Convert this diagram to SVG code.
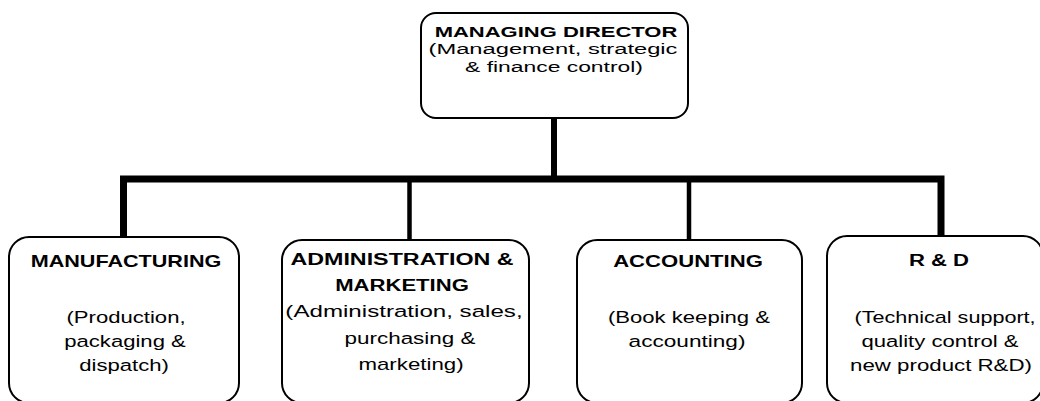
<svg xmlns="http://www.w3.org/2000/svg" width="1040" height="401" viewBox="0 0 1040 401">
  <style>
    .box { fill: #ffffff; stroke: #000000; stroke-width: 2; }
    .link { fill: none; stroke: #000000; stroke-linecap: butt; stroke-linejoin: miter; }
    text { font-family: "Liberation Sans", Arial, Helvetica, sans-serif; font-size: 17px; fill: #000000; text-anchor: middle; }
    .head { font-weight: bold; }
    .top { font-size: 15.5px; }
  </style>
  <rect x="0" y="0" width="1040" height="401" fill="#ffffff"/>

  <!-- connectors: trunk, main bar with outer drops, inner drops -->
  <g id="connectors">
    <path class="link" d="M554 118 V180" stroke-width="6"/>
    <path class="link" d="M123.5 237 V179 H941 V236" stroke-width="7"/>
    <path class="link" d="M409.5 180 V240" stroke-width="4.5"/>
    <path class="link" d="M689 180 V240" stroke-width="4.5"/>
  </g>

  <!-- top node -->
  <g id="managing-director">
    <rect class="box" x="421" y="13" width="267" height="105" rx="15" ry="15"/>
    <text class="head top" transform="translate(556 36.5) scale(1.42 1)">MANAGING DIRECTOR</text>
    <text class="top" transform="translate(553 54) scale(1.53 1)">(Management, strategic</text>
    <text class="top" transform="translate(554 71.5) scale(1.475 1)">&amp; finance control)</text>
  </g>

  <g id="manufacturing">
    <rect class="box" x="9" y="237" width="230" height="166" rx="20" ry="20"/>
    <text class="head" transform="translate(126 267) scale(1.27 1)">MANUFACTURING</text>
    <text transform="translate(126 323) scale(1.3 1)">(Production,</text>
    <text transform="translate(125 347) scale(1.3 1)">packaging &amp;</text>
    <text transform="translate(124 371) scale(1.3 1)">dispatch)</text>
  </g>

  <g id="administration-marketing">
    <rect class="box" x="282" y="240" width="247" height="163" rx="20" ry="20"/>
    <text class="head" transform="translate(402 265) scale(1.37 1)">ADMINISTRATION &amp;</text>
    <text class="head" transform="translate(402 291) scale(1.3 1)">MARKETING</text>
    <text transform="translate(404 317) scale(1.42 1)">(Administration, sales,</text>
    <text transform="translate(410 344) scale(1.32 1)">purchasing &amp;</text>
    <text transform="translate(411 370) scale(1.31 1)">marketing)</text>
  </g>

  <g id="accounting">
    <rect class="box" x="577" y="240" width="225" height="163" rx="20" ry="20"/>
    <text class="head" transform="translate(688 267) scale(1.3 1)">ACCOUNTING</text>
    <text transform="translate(689 323) scale(1.3 1)">(Book keeping &amp;</text>
    <text transform="translate(687 347) scale(1.33 1)">accounting)</text>
  </g>

  <g id="r-and-d">
    <rect class="box" x="827" y="236" width="216" height="167" rx="20" ry="20"/>
    <text class="head" transform="translate(939 266) scale(1.3 1)">R &amp; D</text>
    <text transform="translate(945 323) scale(1.27 1)">(Technical support,</text>
    <text transform="translate(940 347) scale(1.3 1)">quality control &amp;</text>
    <text transform="translate(941 371) scale(1.31 1)">new product R&amp;D)</text>
  </g>
</svg>
